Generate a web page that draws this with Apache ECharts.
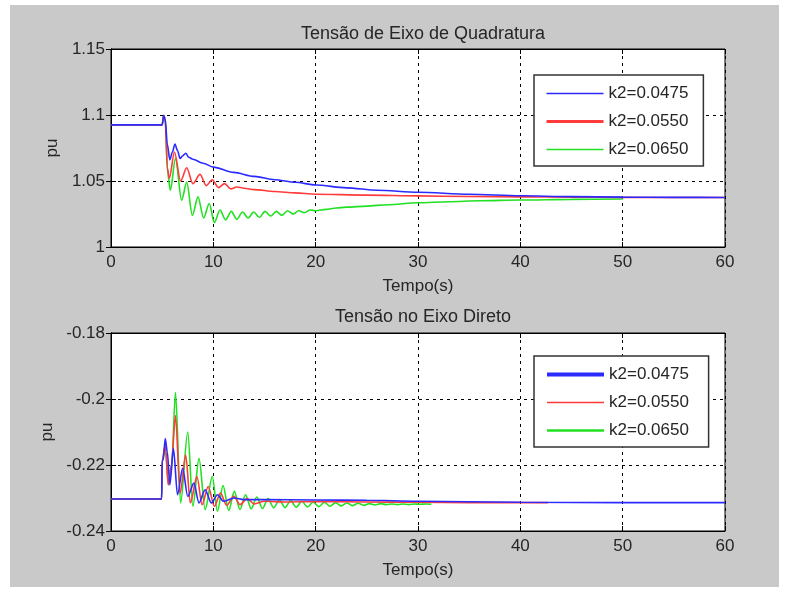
<!DOCTYPE html>
<html><head><meta charset="utf-8">
<script src="https://cdn.jsdelivr.net/npm/echarts@6/dist/echarts.min.js"></script>
<style>html,body{margin:0;padding:0;background:#fff}#c{width:787px;height:595px}</style>
</head><body><div id="c"></div>
<script>
const seriesNames = ['k2=0.0475', 'k2=0.0550', 'k2=0.0650'];
const titles = ['Tensão de Eixo de Quadratura', 'Tensão no Eixo Direto'];
const xName = 'Tempo(s)';
const yName = 'pu';

// Top plot: quadrature-axis voltage
const tQBlue = [0, 5.0, 5.15, 5.3, 5.5, 5.75, 6.0, 6.25, 6.5, 6.75, 7.0, 7.3, 7.6, 8, 9, 10, 12, 14, 16, 18, 20, 23, 26, 30, 35, 40, 45, 50, 55, 60];
const vQBlue = [1.0925, 1.0925, 1.0995, 1.097, 1.078, 1.066, 1.072, 1.078, 1.073, 1.067, 1.069, 1.071, 1.068, 1.0665, 1.0635, 1.0605, 1.0565, 1.0535, 1.051, 1.049, 1.047, 1.0448, 1.043, 1.0415, 1.040, 1.0388, 1.0382, 1.0378, 1.0376, 1.0375];
const tQRed = [0, 5.0, 5.15, 5.3, 5.5, 5.7, 6.2, 6.8, 7.4, 8.0, 8.7, 9.3, 9.9, 10.5, 11.1, 11.7, 12.3, 13, 14, 16, 18, 20, 25, 30, 35, 40, 45, 50, 55, 60];
const vQRed = [1.0925, 1.0925, 1.0995, 1.096, 1.060, 1.052, 1.072, 1.050, 1.060, 1.048, 1.055, 1.0465, 1.051, 1.045, 1.048, 1.044, 1.0455, 1.0445, 1.0435, 1.042, 1.041, 1.040, 1.0393, 1.0387, 1.0383, 1.038, 1.0378, 1.0376, 1.0375, 1.0375];
const tQGreen = [0, 5.0, 5.15, 5.3, 5.55, 5.8, 6.3, 6.9, 7.4, 7.95, 8.5, 9.05, 9.6, 10.1, 10.65, 11.2, 11.75, 12.3, 12.85, 13.4, 13.95, 14.5, 15.05, 15.6, 16.15, 16.7, 17.25, 17.8, 18.35, 18.9, 19.45, 20, 21, 22, 23, 25, 27, 30, 33, 36, 40, 45, 50];
const vQGreen = [1.0925, 1.0925, 1.0995, 1.095, 1.055, 1.043, 1.067, 1.0355, 1.049, 1.024, 1.038, 1.022, 1.033, 1.0185, 1.028, 1.0205, 1.027, 1.021, 1.0265, 1.022, 1.0265, 1.0225, 1.027, 1.0235, 1.027, 1.024, 1.0275, 1.025, 1.0275, 1.026, 1.028, 1.0275, 1.0285, 1.0295, 1.0302, 1.031, 1.032, 1.0335, 1.0343, 1.035, 1.0356, 1.0361, 1.0364];

// Bottom plot: direct-axis voltage
const tDBlue = [0, 4.95, 5.0, 5.1, 5.3, 5.5, 5.75, 6.1, 6.5, 7.0, 7.5, 8.1, 8.6, 9.2, 9.8, 10.4, 11, 12, 13, 15, 20, 25, 30, 40, 50, 60];
const vDBlue = [-0.2303, -0.2303, -0.2188, -0.2185, -0.2120, -0.2160, -0.2260, -0.2150, -0.2290, -0.2210, -0.2295, -0.2255, -0.2315, -0.2275, -0.2315, -0.2290, -0.2310, -0.2300, -0.2305, -0.2305, -0.2306, -0.2307, -0.2310, -0.2313, -0.2314, -0.2314];
const tDRed = [0, 4.95, 5.0, 5.3, 5.6, 5.9, 6.3, 6.75, 7.3, 7.75, 8.4, 8.9, 9.5, 10.1, 10.7, 11.3, 12, 12.6, 13.3, 14, 15, 17, 20, 25, 30, 35, 42.7];
const vDRed = [-0.2303, -0.2303, -0.2188, -0.2140, -0.2260, -0.2200, -0.2050, -0.2285, -0.2170, -0.2315, -0.2235, -0.2320, -0.2265, -0.2325, -0.2285, -0.2322, -0.2295, -0.2320, -0.2302, -0.2318, -0.2310, -0.2312, -0.2311, -0.2312, -0.2313, -0.2314, -0.2314];
const tDGreen = [0, 4.95, 5.0, 5.3, 5.6, 5.9, 6.3, 6.8, 7.5, 8.0, 8.6, 9.2, 9.9, 10.4, 10.95, 11.5, 12.05, 12.6, 13.15, 13.7, 14.25, 14.8, 15.35, 15.9, 16.45, 17.0, 17.55, 18.1, 18.65, 19.2, 19.75, 20.3, 20.85, 21.4, 21.95, 22.5, 23.05, 23.6, 24.15, 24.7, 25.25, 25.8, 26.35, 26.9, 27.45, 28.0, 28.55, 29.1, 29.65, 30.2, 30.75, 31.3];
const vDGreen = [-0.2303, -0.2303, -0.2188, -0.2140, -0.2260, -0.2220, -0.1980, -0.2315, -0.2100, -0.2325, -0.2180, -0.2335, -0.2235, -0.2340, -0.2262, -0.2338, -0.2280, -0.2335, -0.2290, -0.2333, -0.2297, -0.2332, -0.2302, -0.2330, -0.2305, -0.2329, -0.2308, -0.2328, -0.2310, -0.2327, -0.2312, -0.2326, -0.2313, -0.2325, -0.2314, -0.2324, -0.2315, -0.2323, -0.2316, -0.2322, -0.2317, -0.2321, -0.2317, -0.2320, -0.2318, -0.2320, -0.2318, -0.2320, -0.2318, -0.2319, -0.2318, -0.2319];

const xTicks = {min: 0, max: 60, interval: 10};
const yTopTicks = {min: 1.0, max: 1.15, interval: 0.05};
const yBotTicks = {min: -0.24, max: -0.18, interval: 0.02};

const zip = (t, v) => t.map((x, i) => [x, v[i]]);
const colors = ['#2b2bff', '#ff3b3b', '#22e022'];
const FONT = 'Liberation Sans';
const txt = {fontFamily: FONT, fontSize: 17, color: '#262626'};
const fmt = v => String(Number(v.toFixed(2)));

const gridPos = [{left: 111, top: 49, width: 614, height: 198}, {left: 111, top: 333, width: 614, height: 198}];

function xAxisFor(g, pos) {
  const main = pos === 'bottom';
  return {
    type: 'value', gridIndex: g, position: pos, min: xTicks.min, max: xTicks.max, interval: xTicks.interval,
    name: main ? xName : '', nameLocation: 'middle', nameGap: 31,
    nameTextStyle: Object.assign({}, txt, {fontSize: 17}),
    axisLine: {show: true, lineStyle: {color: '#000', width: 1}},
    axisTick: {show: true, inside: true, length: 5, lineStyle: {color: '#000'}},
    axisLabel: main ? Object.assign({show: true, margin: 7}, txt) : {show: false},
    splitLine: {show: main, lineStyle: {color: '#000', type: [3, 4], width: 1}}
  };
}
function yAxisFor(g, pos, t) {
  const main = pos === 'left';
  return {
    type: 'value', gridIndex: g, position: pos, min: t.min, max: t.max, interval: t.interval,
    name: main ? yName : '', nameLocation: 'middle', nameGap: 42,
    nameTextStyle: Object.assign({}, txt),
    axisLine: {show: true, lineStyle: {color: '#000', width: 1}},
    axisTick: {show: true, inside: true, length: 5, lineStyle: {color: '#000'}},
    axisLabel: main ? Object.assign({show: true, margin: 6, formatter: fmt}, txt) : {show: false},
    splitLine: {show: main, lineStyle: {color: '#000', type: [3, 4], width: 1}}
  };
}

function lineSeries(name, data, ci, xi, yi, z) {
  return {
    type: 'line', name: name, data: data, xAxisIndex: xi, yAxisIndex: yi, z: z,
    showSymbol: false, symbol: 'none', animation: false, smooth: 0.3, smoothMonotone: 'x',
    lineStyle: {color: colors[ci], width: 1.6}, itemStyle: {color: colors[ci]}
  };
}

const legendBase = {
  orient: 'vertical', itemWidth: 57, itemHeight: 14, itemGap: 11,
  padding: [10, 15, 8, 11], backgroundColor: '#fff', borderColor: '#333', borderWidth: 1.5,
  textStyle: Object.assign({}, txt), selectedMode: false,
  itemStyle: {color: 'rgba(0,0,0,0)', opacity: 0, borderWidth: 0}
};

const sfx = ' ';
const chart = echarts.init(document.getElementById('c'), null, {renderer: 'canvas'});
chart.setOption({
  backgroundColor: '#c9c9c9',
  animation: false,
  graphic: [
    {type: 'rect', shape: {x: 0, y: 0, width: 787, height: 5}, style: {fill: '#fff'}},
    {type: 'rect', shape: {x: 0, y: 0, width: 10, height: 595}, style: {fill: '#fff'}},
    {type: 'rect', shape: {x: 779, y: 0, width: 8, height: 595}, style: {fill: '#fff'}},
    {type: 'rect', shape: {x: 0, y: 587, width: 787, height: 8}, style: {fill: '#fff'}}
  ],
  title: [
    {text: titles[0], left: 418, textAlign: 'center', top: 20, textStyle: {fontFamily: FONT, fontSize: 18, fontWeight: 'normal', color: '#262626'}},
    {text: titles[1], left: 418, textAlign: 'center', top: 303, textStyle: {fontFamily: FONT, fontSize: 18, fontWeight: 'normal', color: '#262626'}}
  ],
  grid: gridPos.map(p => Object.assign({show: true, backgroundColor: '#fff', borderColor: '#000', borderWidth: 1, containLabel: false}, p)),
  xAxis: [xAxisFor(0, 'bottom'), xAxisFor(1, 'bottom'), xAxisFor(0, 'top'), xAxisFor(1, 'top')],
  yAxis: [yAxisFor(0, 'left', yTopTicks), yAxisFor(1, 'left', yBotTicks), yAxisFor(0, 'right', yTopTicks), yAxisFor(1, 'right', yBotTicks)],
  legend: [
    Object.assign({}, legendBase, {left: 534, top: 75,
      data: seriesNames.map((n, i) => ({name: n, lineStyle: {width: i === 1 ? 3 : 1.6}}))}),
    Object.assign({}, legendBase, {left: 534, top: 356,
      data: seriesNames.map((n, i) => ({name: n + sfx, lineStyle: {width: i === 0 ? 4 : (i === 2 ? 2.5 : 1.6)}}))})
  ],
  series: [
    lineSeries(seriesNames[0], zip(tQBlue, vQBlue), 0, 0, 0, 5),
    lineSeries(seriesNames[1], zip(tQRed, vQRed), 1, 0, 0, 4),
    lineSeries(seriesNames[2], zip(tQGreen, vQGreen), 2, 0, 0, 3),
    lineSeries(seriesNames[0] + sfx, zip(tDBlue, vDBlue), 0, 1, 1, 5),
    lineSeries(seriesNames[1] + sfx, zip(tDRed, vDRed), 1, 1, 1, 4),
    lineSeries(seriesNames[2] + sfx, zip(tDGreen, vDGreen), 2, 1, 1, 3)
  ]
});
</script></body></html>
